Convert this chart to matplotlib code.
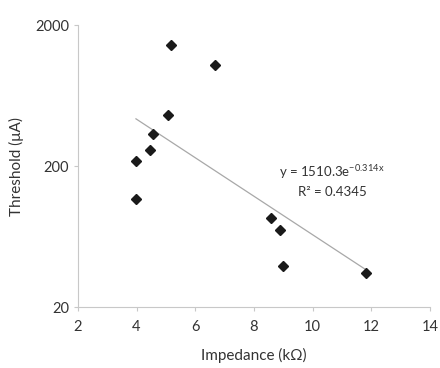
import matplotlib
matplotlib.use("Agg")
import matplotlib.pyplot as plt
import numpy as np
from matplotlib.ticker import FixedLocator, NullLocator

impedance = [5.16, 6.69, 5.08, 4.57, 4.47, 3.98, 3.98, 8.58, 8.89, 8.98, 11.81]
threshold = [1443, 1037, 461, 336, 260, 219, 117, 85.5, 71, 39.5, 34.9]
fit_a = 1510.3
fit_b = -0.314
x_ticks = [2, 4, 6, 8, 10, 12, 14]
y_ticks = [20, 200, 2000]

plt.rcParams['font.family'] = ['Lato', 'DejaVu Sans']
fig = plt.figure(figsize=(4.4, 3.68), dpi=100)
ax = fig.add_axes([0.177, 0.165, 0.8, 0.767])
ax.set_yscale('log')
ax.set_xlim(2, 14)
ax.set_ylim(20, 2000)

xf = np.linspace(min(impedance), max(impedance), 50)
ax.plot(xf, fit_a * np.exp(fit_b * xf), color='#a8a8a8', lw=0.9, zorder=2)
ax.plot(impedance, threshold, linestyle='none', marker='D', markersize=4.6,
        color='#1a1a1a', zorder=3)

ax.xaxis.set_major_locator(FixedLocator(x_ticks))
ax.yaxis.set_major_locator(FixedLocator(y_ticks))
ax.yaxis.set_minor_locator(NullLocator())
ax.set_xticklabels([str(t) for t in x_ticks])
ax.set_yticklabels([str(t) for t in y_ticks])

for s in ['top', 'right']:
    ax.spines[s].set_visible(False)
for s in ['left', 'bottom']:
    ax.spines[s].set_color('#c8c8c8')
    ax.spines[s].set_linewidth(0.8)
ax.tick_params(axis='both', colors='#c8c8c8', labelcolor='#333333',
               labelsize=10.5, length=3, width=0.8)
ax.tick_params(axis='x', pad=6)

ax.set_xlabel('Impedance (kΩ)', fontsize=11, color='#333333', labelpad=10)
ax.set_ylabel('Threshold (μA)', fontsize=11, color='#333333', labelpad=8)

ax.text(10.66, 182, r'y = 1510.3e$^{\mathregular{-0.314x}}$', ha='center', va='center',
        fontsize=9.5, color='#333333')
ax.text(10.66, 131, 'R² = 0.4345', ha='center', va='center',
        fontsize=9.5, color='#333333')

fig.savefig('out.png', dpi=100)
